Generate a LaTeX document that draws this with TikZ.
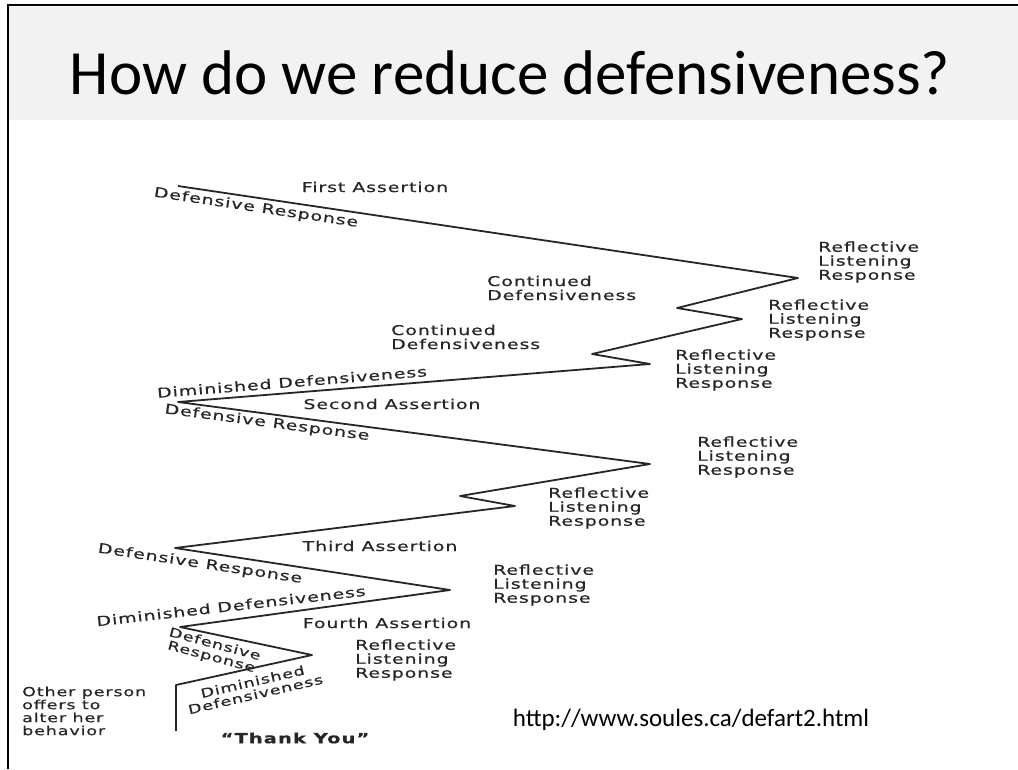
\documentclass[tikz,border=0pt]{standalone}
\usepackage{fontspec}
\usepackage{xcolor}
\usepackage{tikz}
\usetikzlibrary{
    positioning,
    calc
}
\newfontfamily\titlefont{Carlito}
\newfontfamily\diagfont[FakeStretch=1.4,LetterSpace=7,FakeBold=0.6]{DejaVu Sans}
\definecolor{bandgray}{HTML}{F2F2F2}
\definecolor{inkgray}{HTML}{262626}
\tikzset{
  frame/.style = {
      line width=2pt,
      black
  },
  zig/.style = {
      line width=1.8pt,
      color=inkgray,
      line join=round
  },
  lbl/.style = {
      font=\diagfont\fontsize{13.5}{14}\selectfont,
      text=inkgray,
      inner sep=0pt,
      align=left
  },
  rlr/.style = {
      lbl,
      anchor=west
  },
  small/.style = {
      lbl,
      font=\diagfont\fontsize{12.5}{13}\selectfont
  },
  title/.style = {
      font=\titlefont\fontsize{63}{70}\selectfont,
      text=black
  },
  link/.style = {
      font=\titlefont\fontsize{25}{27}\selectfont,
      text=black
  }
}

\begin{document}
\begin{tikzpicture}[x=1pt, y=-1pt]
        \useasboundingbox (0,0) rectangle (1018,769);
        % Title band
        \fill[bandgray] (9,7) rectangle (1018,120);
        \draw[frame] (8,769) -- (8,5) -- (1018,5);
        \node[title] (title) at (510,73) {How do we reduce defensiveness?};
        % Zigzag corners
        \coordinate (v0) at (178,186);
        \coordinate (v1) at (798,278);
        \coordinate (v2) at (677,308);
        \coordinate (v3) at (742,319);
        \coordinate (v4) at (592,354);
        \coordinate (v5) at (650,364);
        \coordinate (v6) at (178,402);
        \coordinate (v7) at (650,464);
        \coordinate (v8) at (460,496);
        \coordinate (v9) at (515,506);
        \coordinate (v10) at (175,548);
        \coordinate (v11) at (450,590);
        \coordinate (v12) at (180,627);
        \coordinate (v13) at (312,655);
        \coordinate (v14) at (176,685);
        \coordinate (v15) at (176,731);
        % Edges
        \draw[zig] (v0) -- (v1) -- (v2) -- (v3) -- (v4) -- (v5) -- (v6)
            -- (v7) -- (v8) -- (v9) -- (v10) -- (v11) -- (v12) -- (v13)
            -- (v14) -- (v15);
        % Label
        \node[lbl] (first) at (375,187) {First Assertion};
        \node[lbl, rotate=-8.5] (def1) at (256,208) {Defensive Response};
        \node[rlr] (refl1) at (818,262) {Reflective\\Listening\\Response};
        \node[rlr] (cont1) at (487,288) {Continued\\Defensiveness};
        \node[rlr] (refl2) at (768,320) {Reflective\\Listening\\Response};
        \node[rlr] (cont2) at (391,337) {Continued\\Defensiveness};
        \node[rlr] (refl3) at (675,370) {Reflective\\Listening\\Response};
        \node[lbl, rotate=4.6] (dim1) at (292,382) {Diminished Defensiveness};
        \node[lbl] (second) at (392,404) {Second Assertion};
        \node[lbl, rotate=-7.5] (def2) at (267,423) {Defensive Response};
        \node[rlr] (refl4) at (697,457) {Reflective\\Listening\\Response};
        \node[rlr] (refl5) at (548,508) {Reflective\\Listening\\Response};
        \node[lbl] (third) at (380,546) {Third Assertion};
        \node[lbl, rotate=-8.5] (def3) at (200,564) {Defensive Response};
        \node[rlr] (refl6) at (493,585) {Reflective\\Listening\\Response};
        \node[lbl, rotate=6.5] (dim2) at (231,606) {Diminished Defensiveness};
        \node[lbl] (fourth) at (387,623) {Fourth Assertion};
        \node[small, rotate=-15, align=center] (def4) at (213,651) {Defensive\\Response};
        \node[rlr] (refl7) at (355,660) {Reflective\\Listening\\Response};
        \node[small, rotate=13, align=center] (dim3) at (254,688) {Diminished\\Defensiveness};
        \node[small, anchor=west] (other) at (22,711) {Other person\\offers to\\alter her\\behavior};
        \node[lbl, font=\diagfont\bfseries\fontsize{14}{15}\selectfont] (thanks) at (295,738) {“Thank You”};
        \node[link] (url) at (691,720) {http://www.soules.ca/defart2.html};
    \end{tikzpicture}
\end{document}
